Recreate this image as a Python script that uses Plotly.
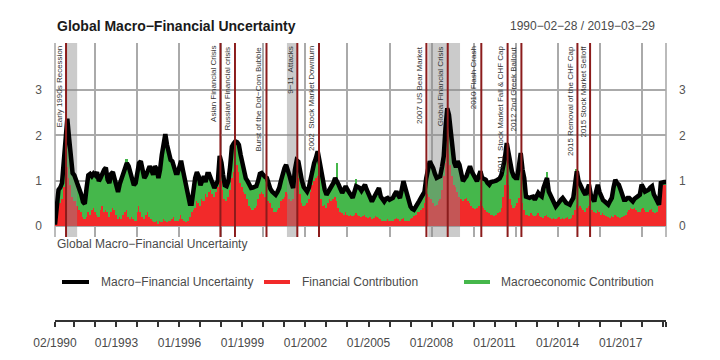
import plotly.graph_objects as go
import pandas as pd

# ---------------- data (monthly) ----------------
start_date = "1990-02-28"

uncertainty = [
    0.03, 0.40, 0.80, 0.85, 0.95, 1.43, 2.00, 2.37, 1.94, 1.43,
    1.17, 1.12, 1.02, 0.93, 0.84, 0.69, 0.53, 0.49, 0.84, 1.12,
    1.15, 1.10, 1.16, 1.12, 1.19, 0.99, 1.06, 1.17, 1.24, 1.29,
    1.02, 0.95, 1.15, 1.19, 1.04, 0.84, 0.75, 0.93, 1.06, 1.13,
    1.28, 1.39, 1.32, 1.15, 1.06, 0.90, 0.95, 1.24, 1.39, 1.43,
    1.24, 1.06, 1.12, 1.26, 1.32, 1.24, 1.13, 1.32, 1.26, 1.06,
    1.24, 1.57, 1.87, 2.03, 1.79, 1.56, 1.46, 1.43, 1.28, 1.17,
    1.17, 1.35, 1.44, 1.24, 1.02, 0.84, 0.62, 0.49, 0.49, 0.84,
    1.06, 1.19, 1.10, 0.90, 0.99, 1.10, 0.97, 1.15, 1.15, 1.02,
    0.90, 0.84, 0.92, 1.00, 1.55, 1.40, 1.13, 0.90, 0.88, 0.99,
    1.30, 1.75, 1.82, 1.87, 1.85, 1.79, 1.57, 1.35, 1.15, 1.05,
    0.99, 0.90, 0.84, 0.85, 0.87, 0.88, 1.00, 1.15, 1.17, 1.10,
    1.08, 1.06, 0.92, 0.82, 0.76, 0.72, 0.69, 0.75, 0.84, 1.00,
    1.17, 1.28, 1.35, 1.25, 1.10, 0.95, 0.84, 1.24, 1.45, 1.42,
    1.15, 1.00, 0.86, 0.80, 0.76, 0.85, 1.06, 1.22, 1.39, 1.50,
    1.65, 1.45, 1.20, 0.91, 0.80, 0.69, 0.75, 0.80, 0.88, 0.95,
    1.06, 1.00, 0.91, 0.82, 0.73, 0.80, 0.88, 0.80, 0.73, 0.68,
    0.62, 0.75, 0.88, 0.86, 0.84, 0.78, 0.88, 0.91, 0.80, 0.69,
    0.60, 0.54, 0.62, 0.69, 0.78, 0.84, 0.65, 0.58, 0.54, 0.60,
    0.62, 0.58, 0.60, 0.62, 0.70, 0.76, 0.68, 0.62, 0.80, 0.99,
    0.85, 0.69, 0.55, 0.43, 0.38, 0.36, 0.42, 0.47, 0.55, 0.62,
    0.70, 0.75, 1.05, 1.25, 1.43, 1.35, 1.28, 1.15, 1.06, 1.08,
    1.10, 1.30, 1.54, 2.16, 2.60, 2.45, 2.10, 1.79, 1.40, 1.30,
    1.43, 1.35, 1.21, 0.99, 1.05, 1.10, 1.22, 1.32, 1.20, 1.13,
    1.05, 0.99, 1.10, 1.21, 1.06, 1.04, 1.02, 0.95, 0.91, 0.97,
    0.99, 0.99, 1.00, 1.02, 1.05, 1.13, 1.30, 1.50, 1.83, 1.60,
    1.35, 1.20, 1.10, 1.06, 1.06, 1.30, 1.61, 1.25, 1.06, 0.65,
    0.62, 0.62, 0.64, 0.65, 0.58, 0.65, 0.73, 0.68, 0.65, 0.84,
    0.98, 1.06, 0.76, 0.68, 0.62, 0.50, 0.43, 0.48, 0.54, 0.58,
    0.62, 0.55, 0.51, 0.49, 0.47, 0.55, 0.62, 0.91, 1.21, 0.99,
    0.90, 0.84, 0.75, 0.69, 0.85, 0.91, 0.69, 0.62, 0.54, 0.75,
    0.91, 0.75, 0.62, 0.57, 0.54, 0.50, 0.47, 0.55, 0.62, 0.85,
    1.02, 0.95, 0.91, 0.80, 0.69, 0.58, 0.58, 0.62, 0.62, 0.58,
    0.54, 0.60, 0.62, 0.66, 0.69, 0.91, 0.85, 0.76, 0.78, 0.80,
    0.85, 0.88, 0.70, 0.62, 0.50, 0.47, 0.95, 0.97, 0.97, 0.97,
]

financial = [
    0.03, 0.25, 0.40, 0.50, 0.60, 0.85, 1.15, 1.30, 1.05, 0.90,
    0.65, 0.55, 0.55, 0.45, 0.35, 0.30, 0.20, 0.15, 0.20, 0.30,
    0.25, 0.35, 0.40, 0.30, 0.25, 0.20, 0.35, 0.45, 0.30, 0.35,
    0.30, 0.20, 0.30, 0.40, 0.35, 0.25, 0.15, 0.20, 0.15, 0.25,
    0.30, 0.35, 0.20, 0.15, 0.20, 0.15, 0.10, 0.30, 0.45, 0.30,
    0.20, 0.15, 0.25, 0.30, 0.20, 0.15, 0.10, 0.08, 0.12, 0.05,
    0.10, 0.08, 0.15, 0.10, 0.08, 0.12, 0.10, 0.15, 0.20, 0.10,
    0.12, 0.15, 0.25, 0.15, 0.10, 0.08, 0.12, 0.20, 0.30, 0.35,
    0.40, 0.55, 0.50, 0.45, 0.60, 0.55, 0.70, 0.65, 0.75, 0.80,
    0.70, 0.65, 0.75, 0.85, 1.10, 1.00, 0.80, 0.60, 0.55, 0.65,
    0.80, 1.05, 1.20, 1.30, 1.35, 1.20, 0.95, 0.85, 0.75, 0.70,
    0.60, 0.45, 0.40, 0.35, 0.40, 0.45, 0.60, 0.70, 0.75, 0.70,
    0.65, 0.62, 0.55, 0.50, 0.40, 0.32, 0.30, 0.35, 0.40, 0.55,
    0.60, 0.65, 0.76, 0.70, 0.60, 0.55, 0.60, 0.90, 1.00, 1.05,
    0.70, 0.50, 0.45, 0.47, 0.50, 0.60, 0.75, 0.90, 1.00, 1.05,
    1.10, 0.95, 0.60, 0.45, 0.47, 0.40, 0.50, 0.60, 0.55, 0.60,
    0.65, 0.55, 0.40, 0.30, 0.29, 0.25, 0.30, 0.25, 0.22, 0.25,
    0.22, 0.25, 0.28, 0.25, 0.22, 0.20, 0.22, 0.25, 0.20, 0.18,
    0.20, 0.15, 0.18, 0.22, 0.20, 0.18, 0.15, 0.12, 0.10, 0.12,
    0.15, 0.12, 0.10, 0.12, 0.15, 0.18, 0.15, 0.12, 0.15, 0.18,
    0.12, 0.10, 0.12, 0.15, 0.18, 0.22, 0.25, 0.30, 0.32, 0.35,
    0.40, 0.50, 0.62, 0.70, 0.65, 0.60, 0.50, 0.45, 0.47, 0.55,
    0.60, 0.80, 1.10, 1.40, 1.70, 1.60, 1.35, 1.10, 0.90, 0.85,
    0.75, 0.65, 0.60, 0.55, 0.60, 0.62, 0.55, 0.50, 0.45, 0.40,
    0.38, 0.40, 0.45, 0.55, 0.45, 0.40, 0.35, 0.30, 0.28, 0.25,
    0.25, 0.22, 0.25, 0.28, 0.30, 0.40, 0.65, 0.90, 1.13, 0.90,
    0.60, 0.47, 0.40, 0.45, 0.50, 0.62, 0.80, 0.50, 0.35, 0.25,
    0.25, 0.22, 0.28, 0.25, 0.22, 0.25, 0.28, 0.22, 0.20, 0.18,
    0.22, 0.25, 0.20, 0.18, 0.15, 0.18, 0.15, 0.18, 0.20, 0.15,
    0.18, 0.15, 0.17, 0.20, 0.15, 0.18, 0.25, 0.35, 0.47, 0.40,
    0.45, 0.40, 0.35, 0.30, 0.40, 0.45, 0.40, 0.35, 0.30, 0.28,
    0.35, 0.30, 0.25, 0.28, 0.25, 0.22, 0.20, 0.18, 0.22, 0.20,
    0.25, 0.22, 0.20, 0.18, 0.20, 0.22, 0.25, 0.30, 0.35, 0.40,
    0.38, 0.40, 0.35, 0.30, 0.32, 0.38, 0.40, 0.35, 0.30, 0.32,
    0.35, 0.38, 0.30, 0.28, 0.32, 0.45, 0.80, 0.90, 0.90, 0.90,
]

macro = [
    0.00, 0.15, 0.40, 0.35, 0.35, 0.58, 0.85, 1.07, 0.89, 0.53,
    0.52, 0.57, 0.47, 0.48, 0.49, 0.39, 0.33, 0.34, 0.64, 0.82,
    0.90, 0.75, 0.76, 0.82, 0.94, 0.79, 0.71, 0.72, 0.94, 0.94,
    0.72, 0.75, 0.85, 0.79, 0.69, 0.59, 0.60, 0.73, 0.91, 0.88,
    0.98, 1.13, 1.12, 1.00, 0.86, 0.75, 0.85, 0.94, 0.94, 1.13,
    1.04, 0.91, 0.87, 0.96, 1.12, 1.09, 1.03, 1.24, 1.14, 1.01,
    1.14, 1.49, 1.72, 1.93, 1.71, 1.44, 1.36, 1.28, 1.08, 1.07,
    1.05, 1.20, 1.19, 1.09, 0.92, 0.76, 0.50, 0.29, 0.19, 0.49,
    0.66, 0.64, 0.60, 0.45, 0.39, 0.55, 0.27, 0.50, 0.40, 0.22,
    0.20, 0.19, 0.17, 0.15, 0.45, 0.40, 0.33, 0.30, 0.33, 0.34,
    0.50, 0.70, 0.62, 0.57, 0.50, 0.59, 0.62, 0.50, 0.40, 0.35,
    0.39, 0.45, 0.44, 0.50, 0.47, 0.43, 0.40, 0.45, 0.42, 0.40,
    0.43, 0.44, 0.37, 0.32, 0.36, 0.40, 0.39, 0.40, 0.44, 0.45,
    0.57, 0.63, 0.59, 0.55, 0.50, 0.40, 0.24, 0.34, 0.45, 0.37,
    0.45, 0.50, 0.41, 0.33, 0.26, 0.25, 0.31, 0.32, 0.39, 0.45,
    0.55, 0.50, 0.60, 0.46, 0.33, 0.29, 0.25, 0.20, 0.33, 0.35,
    0.41, 0.85, 0.51, 0.52, 0.44, 0.55, 0.58, 0.55, 0.51, 0.43,
    0.40, 0.50, 0.75, 0.61, 0.62, 0.58, 0.66, 0.66, 0.60, 0.51,
    0.40, 0.39, 0.44, 0.47, 0.58, 0.66, 0.50, 0.46, 0.44, 0.48,
    0.47, 0.46, 0.50, 0.50, 0.55, 0.58, 0.53, 0.50, 0.65, 0.81,
    0.73, 0.59, 0.43, 0.28, 0.20, 0.14, 0.17, 0.17, 0.23, 0.27,
    0.30, 0.25, 0.43, 0.55, 0.78, 0.75, 0.78, 0.70, 0.59, 0.53,
    0.50, 0.50, 0.44, 0.76, 0.90, 0.85, 0.75, 0.69, 0.50, 0.45,
    0.68, 0.70, 0.61, 0.44, 0.45, 0.48, 0.67, 0.82, 0.75, 0.73,
    0.67, 0.59, 0.65, 0.66, 0.61, 0.64, 0.67, 0.65, 0.63, 0.72,
    0.74, 0.77, 0.75, 0.74, 0.75, 0.73, 0.65, 0.60, 0.70, 0.70,
    0.75, 0.73, 0.70, 0.61, 0.56, 0.68, 0.81, 0.75, 0.71, 0.40,
    0.37, 0.40, 0.36, 0.40, 0.36, 0.40, 0.45, 0.46, 0.45, 0.66,
    0.76, 0.95, 0.56, 0.50, 0.47, 0.32, 0.28, 0.30, 0.34, 0.43,
    0.44, 0.40, 0.34, 0.29, 0.32, 0.37, 0.37, 0.56, 0.79, 0.59,
    0.45, 0.44, 0.40, 0.39, 0.45, 0.46, 0.29, 0.27, 0.24, 0.47,
    0.56, 0.45, 0.37, 0.29, 0.29, 0.28, 0.27, 0.37, 0.40, 0.65,
    0.77, 0.73, 0.71, 0.62, 0.49, 0.36, 0.33, 0.32, 0.27, 0.18,
    0.16, 0.20, 0.27, 0.36, 0.37, 0.53, 0.45, 0.41, 0.48, 0.48,
    0.50, 0.50, 0.40, 0.34, 0.18, 0.02, 0.15, 0.07, 0.07, 0.07,
]

event_dates = [
    "1990-09-08", "1998-01-13", "1998-09-23", "2000-03-24", "2001-09-11",
    "2002-09-23", "2007-11-03", "2008-11-08", "2010-06-15", "2011-09-15",
    "2012-05-12", "2015-01-11", "2015-08-19",
]
event_labels = [
    "Early 1990s Recession", "Asian Financial Crisis", "Russian Financial crisis",
    "Burst of the Dot\u2212Com Bubble", "9\u221211  Attacks", "2002  Stock Market Downturn",
    "2007 US Bear Market", "Global Financial Crisis", "2010 Flash Crash",
    "2011  Stock Market Fall & CHF Cap", "2012 2nd Greek Bailout",
    "2015 Removal of the CHF Cap", "2015 Stock Market Selloff",
]
recession_starts = ["1990-08-31", "2001-03-15", "2007-12-05"]
recession_ends = ["1991-03-20", "2001-09-20", "2009-06-10"]

y_ticks = [0, 1, 2, 3]
bottom_tick_labels = ["02/1990", "01/1993", "01/1996", "01/1999", "01/2002",
                      "01/2005", "01/2008", "01/2011", "01/2014", "01/2017"]

title_text = "Global Macro\u2212Financial Uncertainty"
range_text = "1990\u221202\u221228 / 2019\u221203\u221229"
series_names = ["Macro\u2212Financial Uncertainty", "Financial Contribution",
                "Macroeconomic Contribution"]

# ---------------- derived axes helpers ----------------
n = min(len(uncertainty), len(financial), len(macro))
uncertainty, financial, macro = uncertainty[:n], financial[:n], macro[:n]
try:
    dates = pd.date_range(start_date, periods=n, freq="ME")
except Exception:
    dates = pd.date_range(start_date, periods=n, freq="M")

jan_dates = [d for d in dates if d.month == 1]
grid_dates = [d for d in jan_dates if d.year % 2 == 0]
label_set = set(bottom_tick_labels)
bottom_vals = [dates[0]] + jan_dates + [dates[-1]]
bottom_text = []
for i, d in enumerate(bottom_vals):
    key = d.strftime("%m/%Y")
    if i == len(bottom_vals) - 1 or key not in label_set:
        bottom_text.append("")
    else:
        bottom_text.append(key)

# ---------------- styles ----------------
FONT = "Liberation Sans, Arial, sans-serif"
RED = "#F22A2A"
GREEN = "#45B74B"
GRID = "#AAAAAA"
EVENT = "#8B1C1C"
TXT = "#4A4A4A"
Y_LO, Y_HI = -0.243, 4.04

# The page body has an 8px default margin, so the figure is drawn 8px in.
OFF = 8
W, H = 720 - OFF, 360 - OFF

# screen pixel -> paper helpers (plot area on screen: x 55..666, y 43..320)
def px(x):
    return (x - 55) / 611.0

def py(y):
    return (320 - y) / 277.0

bar_w = 30.44 * 86400000

fig = go.Figure()
fig.add_trace(go.Bar(x=dates, y=financial, width=bar_w, marker=dict(color=RED, line=dict(width=0)),
                     name=series_names[1], showlegend=False, hoverinfo="skip"))
fig.add_trace(go.Bar(x=dates, y=macro, width=bar_w, marker=dict(color=GREEN, line=dict(width=0)),
                     name=series_names[2], showlegend=False, hoverinfo="skip"))
for s, e in zip(recession_starts, recession_ends):
    fig.add_trace(go.Scatter(x=[s, e, e, s, s], y=[Y_LO, Y_LO, Y_HI, Y_HI, Y_LO],
                             fill="toself", fillcolor="rgba(140,140,140,0.45)",
                             line=dict(width=0), mode="lines", showlegend=False,
                             hoverinfo="skip"))
fig.add_trace(go.Scatter(x=dates, y=uncertainty, mode="lines",
                         line=dict(color="black", width=4.5), name=series_names[0],
                         showlegend=False))

shapes = []
for d in event_dates:
    shapes.append(dict(type="line", xref="x", yref="y domain", x0=d, x1=d, y0=0, y1=1,
                       line=dict(color=EVENT, width=2), layer="above"))
for xd in (0, 1):
    shapes.append(dict(type="line", xref="x domain", yref="y domain", x0=xd, x1=xd, y0=0, y1=1,
                       line=dict(color=GRID, width=1.6), layer="below"))

annotations = []
for d, lab in zip(event_dates, event_labels):
    annotations.append(dict(x=d, xref="x", y=1, yref="y domain", text=lab, textangle=-90,
                            xanchor="right", yanchor="top", showarrow=False, xshift=-1, yshift=-1,
                            font=dict(family=FONT, size=8, color="#333333")))

annotations.append(dict(x=0, xref="paper", y=py(26), yref="paper", text="<b>" + title_text + "</b>",
                        xanchor="left", yanchor="middle", showarrow=False,
                        font=dict(family=FONT, size=14, color="#1A1A1A")))
annotations.append(dict(x=px(657), xref="paper", y=py(26), yref="paper", text=range_text,
                        xanchor="right", yanchor="middle", showarrow=False,
                        font=dict(family=FONT, size=12, color=TXT)))
annotations.append(dict(x=0, xref="paper", y=py(244), yref="paper", text=title_text,
                        xanchor="left", yanchor="middle", showarrow=False,
                        font=dict(family=FONT, size=12, color=TXT)))

# legend (manual, R style)
leg_y = py(282)
leg_items = [(62, 89, 99, "black"), (264, 290, 300, RED), (464, 490, 499, GREEN)]
for (x0, x1, xt, col), name in zip(leg_items, series_names):
    shapes.append(dict(type="line", xref="paper", yref="paper", x0=px(x0), x1=px(x1),
                       y0=leg_y, y1=leg_y, line=dict(color=col, width=4)))
    annotations.append(dict(x=px(xt), xref="paper", y=leg_y, yref="paper", text=name,
                            xanchor="left", yanchor="middle", showarrow=False,
                            font=dict(family=FONT, size=12, color=TXT)))

main_dom = [py(237), 1.0]
x_range = [dates[0], dates[-1]]

fig.update_layout(
    width=W, height=H,
    margin=dict(l=55 - OFF, r=W - (666 - OFF), t=43 - OFF, b=H - (320 - OFF), autoexpand=False),
    paper_bgcolor="white", plot_bgcolor="white",
    barmode="relative", bargap=0,
    showlegend=False,
    font=dict(family=FONT, size=12, color=TXT),
    xaxis=dict(type="date", range=x_range, domain=[0, 1], anchor="y",
               tickvals=grid_dates, showticklabels=False, ticks="",
               showgrid=True, gridcolor=GRID, gridwidth=1.6,
               showline=False, zeroline=False),
    yaxis=dict(range=[Y_LO, Y_HI], domain=main_dom, anchor="x", tickvals=y_ticks,
               showgrid=True, gridcolor=GRID, gridwidth=1.6, zeroline=False,
               ticks="", ticklabelstandoff=12, showline=False,
               tickfont=dict(family=FONT, size=12, color="#555555")),
    yaxis2=dict(range=[Y_LO, Y_HI], domain=main_dom, anchor="x", overlaying="y", side="right",
                tickvals=y_ticks, showgrid=False, zeroline=False, ticks="",
                ticklabelstandoff=12, showline=False,
                tickfont=dict(family=FONT, size=12, color="#555555")),
    xaxis2=dict(type="date", range=x_range, domain=[0, 1], anchor="y3",
                tickvals=bottom_vals, ticktext=bottom_text, ticks="outside", ticklen=5,
                tickwidth=2, tickcolor="#333333", showline=True, linewidth=2,
                linecolor="#333333", showgrid=False, zeroline=False,
                ticklabelstandoff=6,
                tickfont=dict(family=FONT, size=12, color=TXT)),
    yaxis3=dict(domain=[0, 0.01], anchor="x2", visible=False, range=[0, 1]),
    shapes=shapes,
    annotations=annotations,
)

# invisible carriers so the secondary axes are laid out
fig.add_trace(go.Scatter(x=[dates[0]], y=[y_ticks[0]], yaxis="y2", mode="markers",
                         marker=dict(opacity=0), showlegend=False, hoverinfo="skip"))
fig.add_trace(go.Scatter(x=[dates[0]], y=[y_ticks[0]], xaxis="x2", yaxis="y3", mode="markers",
                         marker=dict(opacity=0), showlegend=False, hoverinfo="skip"))

fig.write_html("out.html")
